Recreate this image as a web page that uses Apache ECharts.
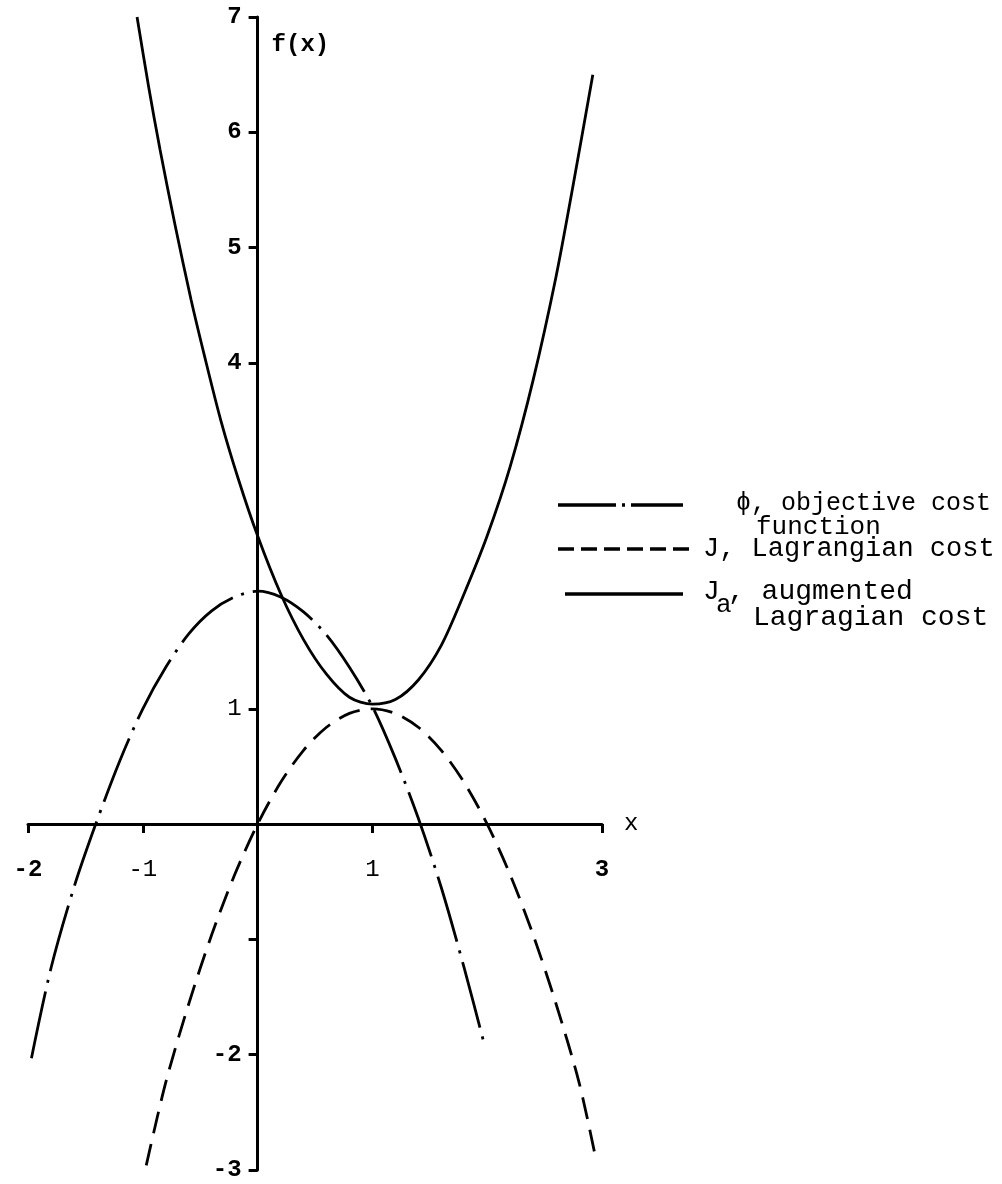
<!DOCTYPE html>
<html><head><meta charset="utf-8">
<script src="https://cdn.jsdelivr.net/npm/echarts@6/dist/echarts.min.js"></script>
<style>html,body{margin:0;padding:0;background:#fff}#c{width:1002px;height:1184px}</style>
</head><body><div id="c"></div>
<script>
// tick values / labels
const xTickValues = [-2, -1, 1, 3];
const xLabelValues = [-2, -1, 1, 3];
const yTickValues = [-3, -2, -1, 1, 4, 5, 6, 7];
const yLabelValues = [-3, -2, 1, 4, 5, 6, 7];

// phi, objective cost function (dash-dot)
const phiX = [-1.97, -1.8, -1.6, -1.41, -1.2, -1.0, -0.8, -0.6, -0.4, -0.2, 0, 0.2, 0.4, 0.6, 0.8, 1.0, 1.2, 1.4, 1.6, 1.8, 1.98];
const phiY = [-2.03, -1.25, -0.55, 0, 0.55, 1.0, 1.36, 1.65, 1.85, 1.97, 2.02, 1.97, 1.84, 1.64, 1.36, 1.02, 0.57, 0.05, -0.55, -1.25, -1.93];

// J, Lagrangian cost (dashed)
const jX = [-0.97, -0.8, -0.6, -0.4, -0.2, 0, 0.2, 0.4, 0.6, 0.8, 1.0, 1.2, 1.4, 1.6, 1.8, 2.0, 2.2, 2.4, 2.6, 2.8, 2.95];
const jY = [-2.96, -2.24, -1.56, -0.96, -0.44, 0, 0.36, 0.64, 0.84, 0.96, 1.0, 0.96, 0.84, 0.64, 0.36, 0, -0.44, -0.96, -1.56, -2.24, -2.92];

// Ja, augmented Lagrangian cost (solid)
const jaX = [-1.05, -0.95, -0.85, -0.72, -0.58, -0.46, -0.32, -0.17, 0, 0.2, 0.4, 0.6, 0.8, 1.0, 1.2, 1.4, 1.6, 1.8, 2.0, 2.2, 2.4, 2.6, 2.75, 2.92];
const jaY = [7.0, 6.4, 5.85, 5.2, 4.55, 4.05, 3.5, 3.0, 2.5, 2.0, 1.6, 1.3, 1.1, 1.04, 1.08, 1.25, 1.55, 2.0, 2.5, 3.1, 3.85, 4.75, 5.55, 6.5];

const zip = (xs, ys) => xs.map((x, i) => [x, ys[i]]);
const MONO = '"Liberation Mono", "DejaVu Sans Mono", monospace';
const numFmt = v => {
  const s = String(v).replace('−', '-');
  return s.indexOf('1') >= 0 ? '{n|' + s + '}' : '{b|' + s + '}';
};
const rich = {
  b: {fontFamily: MONO, fontSize: 24, fontWeight: 'bold', color: '#000'},
  n: {fontFamily: MONO, fontSize: 24, fontWeight: 'normal', color: '#000'}
};

// layout of the plot box (pixels)
const G = {left: 28, right: 400, top: 17, bottom: 14};
const W = 1002 - G.left - G.right, H = 1184 - G.top - G.bottom;
const X_MIN = -2, X_MAX = 3, Y_MIN = -3, Y_MAX = 7;
const xAxisOffset = -H * (0 - Y_MIN) / (Y_MAX - Y_MIN);   // move x axis up to y = 0
const yAxisOffset = -W * (0 - X_MIN) / (X_MAX - X_MIN);   // move y axis right to x = 0

const chart = echarts.init(document.getElementById('c'), null, {renderer: 'canvas'});
const T = (text, x, y, size) => ({
  type: 'text', x: x, y: y,
  style: {text: text, font: 'normal ' + (size || 26) + 'px ' + MONO, fill: '#000', verticalAlign: 'middle', align: 'left'}
});
chart.setOption({
  backgroundColor: '#fff',
  animation: false,
  grid: Object.assign({containLabel: false, outerBoundsMode: 'none'}, G),
  xAxis: {
    type: 'value', min: X_MIN, max: X_MAX, interval: 1,
    position: 'bottom', offset: xAxisOffset,
    name: 'x', nameLocation: 'end', nameGap: 22,
    nameTextStyle: {fontFamily: MONO, fontSize: 24, color: '#000', verticalAlign: 'middle'},
    axisLine: {onZero: false, lineStyle: {color: '#000', width: 3}},
    axisTick: {show: true, customValues: xTickValues, length: 9, lineStyle: {color: '#000', width: 3}},
    axisLabel: {customValues: xLabelValues, margin: 34, formatter: numFmt, rich: rich},
    splitLine: {show: false}
  },
  yAxis: {
    type: 'value', min: Y_MIN, max: Y_MAX, interval: 1,
    position: 'left', offset: yAxisOffset,
    name: 'f(x)', nameLocation: 'end', nameGap: -40,
    nameTextStyle: {fontFamily: MONO, fontSize: 24, fontWeight: 'bold', color: '#000', align: 'left', padding: [0, 0, 0, 14]},
    axisLine: {onZero: false, lineStyle: {color: '#000', width: 3}},
    axisTick: {show: true, customValues: yTickValues, length: 9, lineStyle: {color: '#000', width: 3}},
    axisLabel: {customValues: yLabelValues, margin: 16, formatter: numFmt, rich: rich},
    splitLine: {show: false}
  },
  series: [
    {name: 'ϕ, objective cost function', type: 'line', smooth: 0.3, showSymbol: false,
     data: zip(phiX, phiY), lineStyle: {color: '#000', width: 2.8, type: [68, 9, 3, 9]}},
    {name: 'J, Lagrangian cost', type: 'line', smooth: 0.3, showSymbol: false,
     data: zip(jX, jY), lineStyle: {color: '#000', width: 2.8, type: [22, 11]}},
    {name: 'Ja, augmented Lagragian cost', type: 'line', smooth: 0.3, showSymbol: false,
     data: zip(jaX, jaY), lineStyle: {color: '#000', width: 2.8}}
  ],
  graphic: [
    {type: 'line', shape: {x1: 558, y1: 505, x2: 683, y2: 505}, style: {stroke: '#000', lineWidth: 3.5, lineDash: [58, 6, 3, 6]}},
    T('ϕ, objective cost', 736, 503, 25),
    T('function', 756, 527, 26),
    {type: 'line', shape: {x1: 558, y1: 549, x2: 690, y2: 549}, style: {stroke: '#000', lineWidth: 3.5, lineDash: [16, 7]}},
    T('J, Lagrangian cost', 703, 549, 27),
    {type: 'line', shape: {x1: 565, y1: 594, x2: 683, y2: 594}, style: {stroke: '#000', lineWidth: 3.5}},
    T('J', 703, 592, 28),
    T('a', 716, 605, 26),
    T(', augmented', 728, 592, 28),
    T('Lagragian cost', 753, 618, 28)
  ]
});
</script>
</body></html>
